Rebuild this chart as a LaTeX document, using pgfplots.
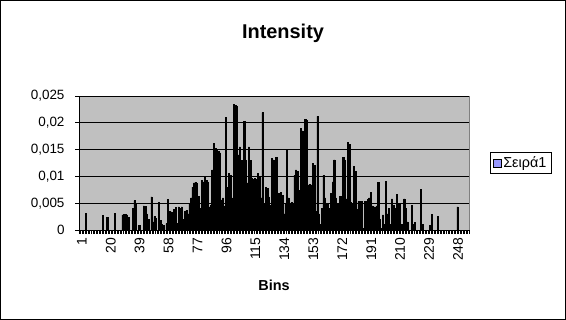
\documentclass[border=0pt]{standalone}
\usepackage{fontspec}
\setmainfont{Liberation Sans}
\usepackage{pgfplots}
\pgfplotsset{compat=1.18}
\definecolor{plotgray}{RGB}{192,192,192}
\definecolor{framegray}{RGB}{128,128,128}
\definecolor{legblue}{RGB}{153,153,255}
\begin{document}
\begin{tikzpicture}
\useasboundingbox (0,0) rectangle (566bp,320bp);
\draw[black, line width=0.6bp] (0.3bp,0.3bp) rectangle (565.7bp,319.7bp);
\node[font=\fontsize{20}{24}\selectfont\bfseries] at (283bp,287bp) {Intensity};
\begin{axis}[
  at={(79bp,90bp)}, anchor=south west,
  scale only axis, width=390bp, height=134bp,
  xmin=0.5, xmax=256.5, ymin=0, ymax=0.025,
  axis background/.style={fill=plotgray, draw=framegray, line width=0.8bp},
  axis x line*=bottom, axis y line*=left,
  axis line style={black, line width=0.8bp, -},
  ytick={0,0.005,0.01,0.015,0.02,0.025},
  scaled y ticks=false,
  ymajorgrids, grid style={black, line width=0.6bp},
  xtick={1,20,...,248},
  minor xtick={0.5,1.5,...,256.5},
  xtick style={draw=none},
  minor x tick style={draw=black, line width=0.35bp},
  ytick style={draw=black, line width=0.6bp},
  tick align=outside, major tick length=4bp, minor tick length=4bp,
  /pgf/number format/assume math mode=true,
  /pgf/number format/.cd, use comma, fixed, precision=3, /pgfplots/.cd,
  yticklabel style={font=\fontsize{13.5}{15}\selectfont, xshift=-7bp},
  xticklabel style={font=\fontsize{14}{16}\selectfont, rotate=90, anchor=east, yshift=-2bp},
  xlabel={\textbf{Bins}}, xlabel style={font=\fontsize{14.5}{16}\selectfont, yshift=-12bp},
  legend style={at={(1.054,0.5)}, anchor=west, draw=black, line width=0.5bp, font=\fontsize{14.5}{16}\selectfont, inner sep=2.5bp},
  legend image code/.code={\draw[fill=legblue,draw=black,line width=0.5bp] (0bp,-4bp) rectangle (8bp,4bp);},
]
\addplot[ybar, bar width=0.8, fill=black, draw=black, line width=0.5bp] coordinates {
(1,0)(2,0)(3,0)(4,0)(5,0.0031)(6,0)(7,0)(8,0)(9,0)(10,0)
(11,0)(12,0)(13,0)(14,0)(15,0)(16,0.0027)(17,0)(18,0)(19,0.0024)(20,0)
(21,0)(22,0)(23,0)(24,0.0031)(25,0)(26,0)(27,0)(28,0)(29,0.0028)(30,0.0029)
(31,0.0029)(32,0.0028)(33,0.0024)(34,0)(35,0)(36,0.0040)(37,0.0055)(38,0.0050)(39,0)(40,0.0008)
(41,0)(42,0)(43,0.0045)(44,0.0044)(45,0.0030)(46,0.0020)(47,0)(48,0.0062)(49,0.0015)(50,0.0025)
(51,0.0022)(52,0)(53,0.0051)(54,0.0018)(55,0.0010)(56,0.0008)(57,0)(58,0.0012)(59,0.0057)(60,0.0035)
(61,0.0034)(62,0.0025)(63,0.0039)(64,0.0042)(65,0.0012)(66,0.0043)(67,0.0040)(68,0.0043)(69,0.0020)(70,0.0035)
(71,0.0037)(72,0.0030)(73,0.0050)(74,0.0060)(75,0.0080)(76,0.0088)(77,0.0089)(78,0.0087)(79,0.0063)(80,0.0040)
(81,0.0093)(82,0.0090)(83,0.0098)(84,0.0092)(85,0.0090)(86,0.0043)(87,0.0046)(88,0.0112)(89,0.0162)(90,0.0152)
(91,0.0150)(92,0.0147)(93,0.0144)(94,0.0056)(95,0.0060)(96,0.0045)(97,0.0210)(98,0.0080)(99,0.0105)(100,0.0102)
(101,0.0060)(102,0.0234)(103,0.0232)(104,0.0230)(105,0.0140)(106,0.0155)(107,0.0130)(108,0.0110)(109,0.0203)(110,0.0130)
(111,0.0088)(112,0.0155)(113,0.0130)(114,0.0097)(115,0.0095)(116,0.0096)(117,0.0094)(118,0.0105)(119,0.0100)(120,0.0060)
(121,0.0219)(122,0.0050)(123,0.0080)(124,0.0078)(125,0.0062)(126,0.0046)(127,0.0133)(128,0.0131)(129,0.0043)(130,0.0135)
(131,0.0040)(132,0.0068)(133,0.0070)(134,0.0065)(135,0.0030)(136,0.0050)(137,0.0149)(138,0.0060)(139,0.0050)(140,0.0051)
(141,0.0048)(142,0.0102)(143,0.0112)(144,0.0110)(145,0.0074)(146,0.0190)(147,0.0185)(148,0.0003)(149,0.0207)(150,0.0205)
(151,0.0084)(152,0.0085)(153,0.0084)(154,0.0124)(155,0.0120)(156,0.0035)(157,0.0212)(158,0.0030)(159,0.0010)(160,0.0040)
(161,0.0102)(162,0.0060)(163,0.0050)(164,0.0050)(165,0.0040)(166,0.0068)(167,0.0090)(168,0.0131)(169,0.0060)(170,0.0050)
(171,0.0045)(172,0.0063)(173,0.0060)(174,0.0135)(175,0.0130)(176,0.0058)(177,0.0163)(178,0.0160)(179,0.0051)(180,0.0050)
(181,0.0119)(182,0.0110)(183,0.0038)(184,0.0053)(185,0.0053)(186,0.0053)(187,0.0003)(188,0.0053)(189,0.0053)(190,0.0057)
(191,0.0060)(192,0.0070)(193,0.0045)(194,0.0043)(195,0.0043)(196,0.0045)(197,0.0089)(198,0.0020)(199,0.0003)(200,0.0028)
(201,0.0010)(202,0.0091)(203,0.0030)(204,0.0040)(205,0.0010)(206,0.0058)(207,0.0046)(208,0.0040)(209,0.0067)(210,0.0048)
(211,0.0048)(212,0.0010)(213,0)(214,0.0058)(215,0.0040)(216,0.0015)(217,0)(218,0)(219,0.0046)(220,0.0010)
(221,0.0014)(222,0)(223,0)(224,0)(225,0.0076)(226,0.0010)(227,0)(228,0)(229,0)(230,0)
(231,0.0009)(232,0.0029)(233,0)(234,0)(235,0)(236,0.0025)(237,0)(238,0)(239,0)(240,0)
(241,0)(242,0)(243,0)(244,0)(245,0)(246,0)(247,0)(248,0)(249,0.0043)(250,0)
(251,0)(252,0)(253,0)(254,0)(255,0)(256,0)
};
\addlegendentry{Σειρά1}
\end{axis}
\end{tikzpicture}
\end{document}
